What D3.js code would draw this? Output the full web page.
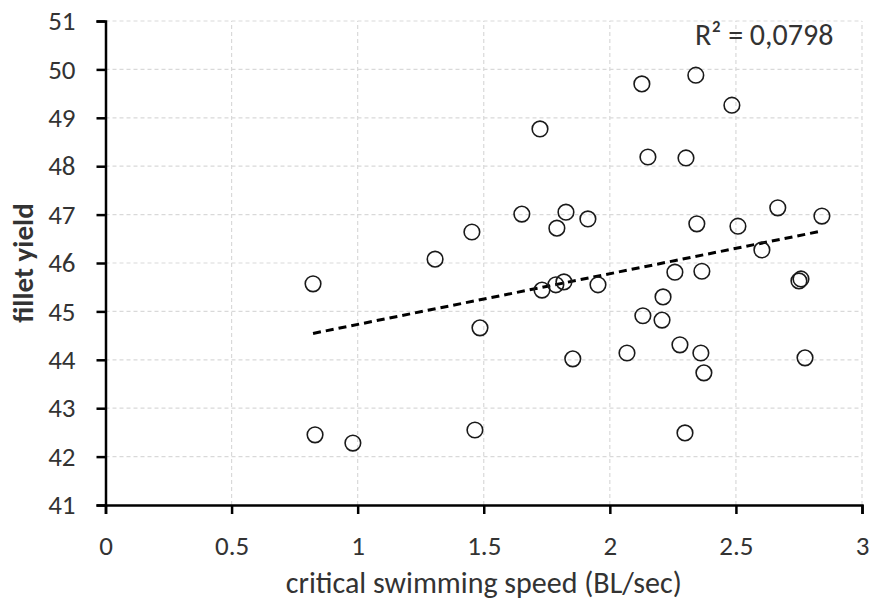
<!DOCTYPE html>
<html>
<head>
<meta charset="utf-8">
<script src="https://cdn.jsdelivr.net/npm/d3@7"></script>
<style>
  body { margin: 0; background: #fff; }
  text { font-family: Carlito, Lato, "Liberation Sans", sans-serif; fill: #333; }
</style>
</head>
<body>
<svg width="875" height="602"></svg>
<script>
var width = 875,
    height = 602;

// data
var speed = [0.823, 0.831, 0.981, 1.307, 1.453, 1.485, 1.465, 1.651, 1.723, 1.826,
             1.790, 1.913, 1.731, 1.786, 1.818, 1.953, 1.853, 2.127, 2.341, 2.484,
             2.151, 2.302, 2.666, 2.841, 2.345, 2.508, 2.603, 2.258, 2.365, 2.758,
             2.750, 2.211, 2.131, 2.207, 2.278, 2.068, 2.361, 2.373, 2.774, 2.298]
var yieldPct = [45.57, 42.45, 42.28, 46.08, 46.64, 44.66, 42.55, 47.01, 48.77, 47.05,
                46.72, 46.91, 45.44, 45.55, 45.61, 45.55, 44.02, 49.70, 49.88, 49.26,
                48.19, 48.17, 47.14, 46.97, 46.81, 46.76, 46.27, 45.81, 45.83, 45.67,
                45.63, 45.30, 44.91, 44.82, 44.31, 44.14, 44.14, 43.73, 44.04, 42.49]
var xTicks = [0, 0.5, 1, 1.5, 2, 2.5, 3]
var yTicks = [41, 42, 43, 44, 45, 46, 47, 48, 49, 50, 51]
var rSquared = "0,0798"

var points = speed.map(function (d, i) { return { x: d, y: yieldPct[i] }; })

var margin = { left: 105.5, right: 13, top: 21, bottom: 97 }

var x = d3.scaleLinear().domain([0, 3]).range([margin.left, width - margin.right])
var y = d3.scaleLinear().domain([41, 51]).range([height - margin.bottom, margin.top])

var svg = d3.select("svg")

// gridlines
svg.append("g")
    .selectAll("line")
    .data(yTicks.slice(1))
    .enter().append("line")
    .attr("x1", x(0)).attr("x2", x(3))
    .attr("y1", function (d) { return y(d); })
    .attr("y2", function (d) { return y(d); })
    .style("stroke", "#d9d9d9")
    .style("stroke-width", 1.2)
    .style("stroke-dasharray", "4,3")

svg.append("g")
    .selectAll("line")
    .data(xTicks.slice(1))
    .enter().append("line")
    .attr("y1", y(41)).attr("y2", y(51))
    .attr("x1", function (d) { return x(d); })
    .attr("x2", function (d) { return x(d); })
    .style("stroke", "#d9d9d9")
    .style("stroke-width", 1.2)
    .style("stroke-dasharray", "4,3")

// axes
var xAxis = svg.append("g")
    .attr("transform", "translate(0," + y(41) + ")")
    .call(d3.axisBottom(x).tickValues(xTicks).tickSize(9).tickPadding(22)
        .tickFormat(function (d) { return String(d); }))
var yAxis = svg.append("g")
    .attr("transform", "translate(" + x(0) + ",0)")
    .call(d3.axisLeft(y).tickValues(yTicks).tickSize(9).tickPadding(21))

;[xAxis, yAxis].forEach(function (a) {
    a.select(".domain").style("stroke", "#000").style("stroke-width", 2.5)
    a.selectAll(".tick line").style("stroke", "#000").style("stroke-width", 2.5)
    a.selectAll(".tick text").style("font-size", "27px")
        .style("font-family", "Carlito, Lato, 'Liberation Sans', sans-serif")
        .style("fill", "#333")
})

// trendline from least squares fit
var mx = d3.mean(speed), my = d3.mean(yieldPct)
var slope = d3.sum(points, function (p) { return (p.x - mx) * (p.y - my); }) /
            d3.sum(points, function (p) { return (p.x - mx) * (p.x - mx); })
var intercept = my - slope * mx
var ext = d3.extent(speed)

svg.append("line")
    .attr("x1", x(ext[0])).attr("y1", y(intercept + slope * ext[0]))
    .attr("x2", x(ext[1])).attr("y2", y(intercept + slope * ext[1]))
    .style("stroke", "#000")
    .style("stroke-width", 3)
    .style("stroke-dasharray", "8,5")

// points
svg.append("g")
    .selectAll("circle")
    .data(points)
    .enter().append("circle")
    .attr("cx", function (d) { return x(d.x); })
    .attr("cy", function (d) { return y(d.y); })
    .attr("r", 7.8)
    .style("fill", "none")
    .style("stroke", "#1a1a1a")
    .style("stroke-width", 1.6)

// labels
svg.append("text")
    .attr("x", (x(0) + x(3)) / 2)
    .attr("y", 593)
    .attr("text-anchor", "middle")
    .style("font-size", "30px")
    .text("critical swimming speed (BL/sec)")

svg.append("text")
    .attr("transform", "translate(33," + y(46) + ") rotate(-90)")
    .attr("text-anchor", "middle")
    .style("font-size", "29px")
    .style("font-weight", "bold")
    .text("fillet yield")

svg.append("text")
    .attr("x", 695)
    .attr("y", 45)
    .style("font-size", "30px")
    .text("R\u00b2 = " + rSquared)
</script>
</body>
</html>
